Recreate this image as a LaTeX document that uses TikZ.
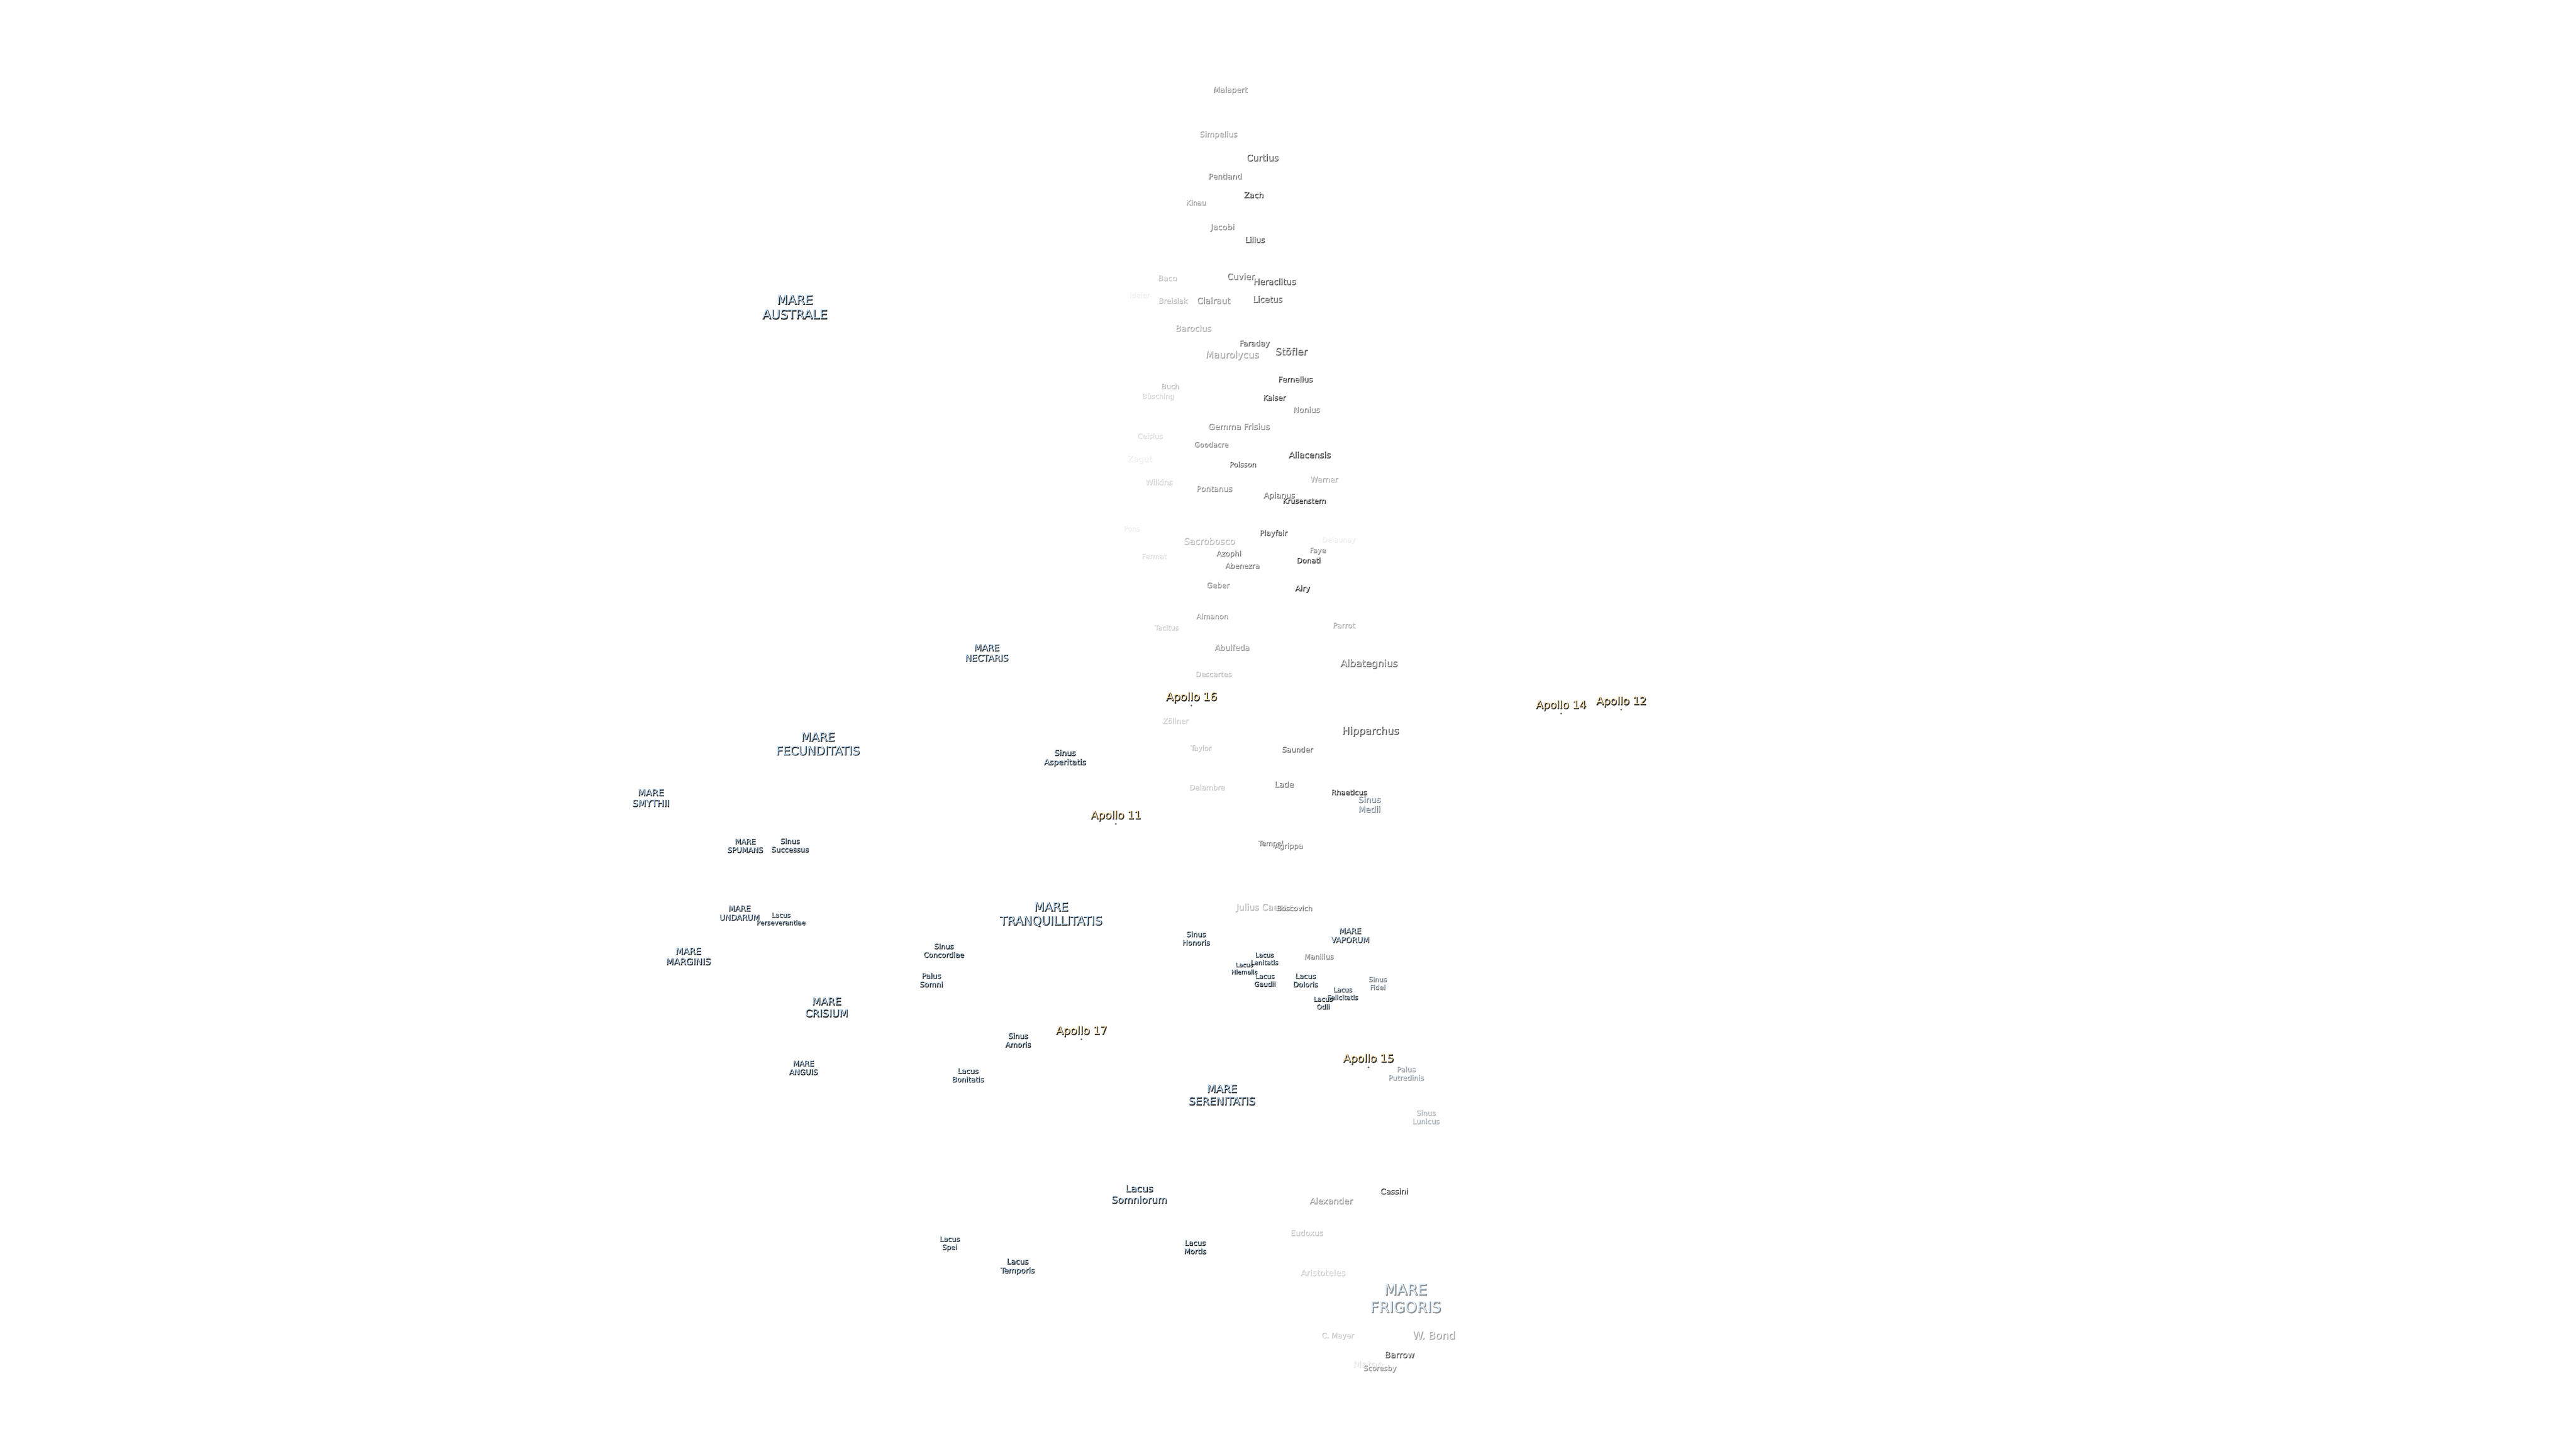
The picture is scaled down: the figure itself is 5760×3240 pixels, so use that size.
\documentclass[tikz,border=0pt]{standalone}
\usepackage{fontspec}
\setmainfont{DejaVu Sans}
\newfontfamily\halofont[FakeBold=5]{DejaVu Sans}
\usepackage{xcolor}
\definecolor{CraterFace}{HTML}{FFFFFF}
\definecolor{MareFace}{HTML}{C6E2FC}
\definecolor{ApolloFace}{HTML}{FFE4B4}
\definecolor{RichBlack}{HTML}{303030}
\tikzset{%
  moon_shadow/.style={%
    inner sep=0pt,%
    align=center%
  },
  moon_face/.style={%
    inner sep=0pt,%
    align=center%
  },
  CraterFace_look/.style={%
    text opacity=0.85%
  },
  MareFace_look/.style={%
    text opacity=1%
  },
  ApolloFace_look/.style={%
    text opacity=1%
  },
  apollo_site/.style={%
    circle,%
    inner sep=0pt,%
    minimum size=1.1pt,%
    fill=RichBlack!70!ApolloFace%
  },
}
% face colour, node name, position, size in pixels, strength, text
\newcommand{\moonlabel}[6]{%
  \pgfmathsetmacro{\labelsize}{#4*0.25}%
  \pgfmathsetmacro{\labelskip}{#4*0.2925}%
  \pgfmathsetmacro{\labeldark}{100*(#5/100)^0.7}%
  \node [moon_shadow, text=RichBlack!\labeldark!white,
    font={\fontsize{\labelsize}{\labelskip}\halofont}]
    (#2_shadow) at ([shift={(1.2,-0.3)}]#3) {#6};
  \node [moon_face, #1_look, text=#1!\labeldark!white,
    font={\fontsize{\labelsize}{\labelskip}\selectfont}]
    (#2) at ([shift={(0,-1.5)}]#3) {#6};
}

\begin{document}
\begin{tikzpicture}[x=0.25pt, y=-0.25pt]

  \useasboundingbox (0,0) rectangle (5760,3240);

  \moonlabel{CraterFace}{malapert}{2750.5,203}{17.3}{45}{Malapert}
  \moonlabel{CraterFace}{simpelius}{2724,302.5}{17.4}{30}{Simpelius}
  \moonlabel{CraterFace}{curtius}{2822.5,353.5}{20}{70}{Curtius}
  \moonlabel{CraterFace}{pentland}{2739,395}{17.1}{50}{Pentland}
  \moonlabel{CraterFace}{zach}{2803,437}{17.7}{85}{Zach}
  \moonlabel{CraterFace}{kinau}{2674,454}{15.8}{30}{Kinau}
  \moonlabel{CraterFace}{jacobi}{2733,510}{18}{40}{Jacobi}
  \moonlabel{CraterFace}{lilius}{2805.6,537}{17.2}{70}{Lilius}
  \moonlabel{CraterFace}{baco}{2610,623}{17.4}{15}{Baco}
  \moonlabel{CraterFace}{cuvier}{2774,619}{19}{50}{Cuvier}
  \moonlabel{CraterFace}{heraclitus}{2849.5,630.5}{18.8}{75}{Heraclitus}
  \moonlabel{CraterFace}{ideler}{2547.5,660.7}{15.8}{3}{Ideler}
  \moonlabel{CraterFace}{breislak}{2622.4,673.4}{16.4}{18}{Breislak}
  \moonlabel{CraterFace}{clairaut}{2713,673}{19}{40}{Clairaut}
  \moonlabel{CraterFace}{licetus}{2834,670}{18.6}{65}{Licetus}

  \moonlabel{CraterFace}{baroclus}{2668,735}{18.7}{25}{Baroclus}
  \moonlabel{CraterFace}{faraday}{2804.6,770}{17.1}{60}{Faraday}
  \moonlabel{CraterFace}{maurolycus}{2755,796}{21}{30}{Maurolycus}
  \moonlabel{CraterFace}{stofler}{2887,787}{21.7}{65}{Stöfler}
  \moonlabel{CraterFace}{fernelius}{2896,849}{17.2}{90}{Fernelius}
  \moonlabel{CraterFace}{buch}{2616,864.6}{16.1}{20}{Buch}
  \moonlabel{CraterFace}{busching}{2589,888}{15.7}{10}{Büsching}
  \moonlabel{CraterFace}{kaiser}{2849,890}{16.3}{85}{Kaiser}
  \moonlabel{CraterFace}{nonius}{2921,917}{17.3}{45}{Nonius}
  \moonlabel{CraterFace}{gemma_frisius}{2770,955}{18.5}{40}{Gemma Frisius}
  \moonlabel{CraterFace}{celsius}{2571,976}{16}{8}{Celsius}
  \moonlabel{CraterFace}{goodacre}{2708,995}{16}{40}{Goodacre}
  \moonlabel{CraterFace}{aliacensis}{2928,1018}{18.9}{85}{Aliacensis}
  \moonlabel{CraterFace}{zagut}{2548,1029}{18.6}{3}{Zagut}
  \moonlabel{CraterFace}{poisson}{2778.6,1039.5}{16}{70}{Poisson}
  \moonlabel{CraterFace}{werner}{2960,1073}{17.2}{25}{Werner}
  \moonlabel{CraterFace}{wilkins}{2591,1079}{17.2}{10}{Wilkins}
  \moonlabel{CraterFace}{pontanus}{2715,1094}{17.4}{35}{Pontanus}
  \moonlabel{CraterFace}{apianus}{2860,1110}{17.5}{50}{Apianus}
  \moonlabel{CraterFace}{krusenstern}{2916,1121}{16}{90}{Krusenstern}
  \moonlabel{CraterFace}{pons}{2530,1183}{15.5}{3}{Pons}
  \moonlabel{CraterFace}{playfair}{2847,1194}{16.5}{70}{Playfair}
  \moonlabel{CraterFace}{sacrobosco}{2704,1211}{20}{20}{Sacrobosco}
  \moonlabel{CraterFace}{delaunay}{2993,1209}{15.8}{3}{Delaunay}
  \moonlabel{CraterFace}{faye}{2946,1233}{15.8}{40}{Faye}
  \moonlabel{CraterFace}{fermat}{2580,1245}{15.8}{7}{Fermat}
  \moonlabel{CraterFace}{azophi}{2747,1240}{16.4}{50}{Azophi}
  \moonlabel{CraterFace}{donati}{2925.5,1254}{16.2}{90}{Donati}
  \moonlabel{CraterFace}{abenezra}{2777.6,1266}{16.2}{50}{Abenezra}

  \moonlabel{CraterFace}{geber}{2723,1309.6}{16.7}{35}{Geber}
  \moonlabel{CraterFace}{airy}{2912,1318}{16.9}{90}{Airy}
  \moonlabel{CraterFace}{almanon}{2710,1379}{16.1}{30}{Almanon}
  \moonlabel{CraterFace}{tacitus}{2608,1404.5}{15.5}{12}{Tacitus}
  \moonlabel{CraterFace}{parrot}{3004.6,1399.5}{17.1}{25}{Parrot}
  \moonlabel{CraterFace}{abulfeda}{2754.6,1449}{17.5}{35}{Abulfeda}
  \moonlabel{CraterFace}{albategnius}{3060.7,1486}{21.6}{55}{Albategnius}
  \moonlabel{CraterFace}{descartes}{2713,1508.6}{16.1}{20}{Descartes}
  \moonlabel{CraterFace}{zollner}{2628,1613}{16.4}{12}{Zöllner}
  \moonlabel{CraterFace}{hipparchus}{3064,1637}{22.5}{75}{Hipparchus}
  \moonlabel{CraterFace}{taylor}{2684.7,1675}{15.7}{15}{Taylor}
  \moonlabel{CraterFace}{saunder}{2900.5,1677}{16.6}{55}{Saunder}
  \moonlabel{CraterFace}{lade}{2871,1755}{17.8}{55}{Lade}
  \moonlabel{CraterFace}{delambre}{2698.5,1761.7}{16.2}{15}{Delambre}
  \moonlabel{CraterFace}{rhaeticus}{3016,1772.7}{16.1}{85}{Rhaeticus}
  \moonlabel{CraterFace}{tempel}{2841,1888}{15.6}{50}{Tempel}
  \moonlabel{CraterFace}{agrippa}{2881,1894}{16.4}{45}{Agrippa}
  \moonlabel{CraterFace}{julius_caesar}{2826,2031}{19.5}{20}{Julius Caesar}
  \moonlabel{CraterFace}{boscovich}{2894,2032}{15.8}{50}{Boscovich}
  \moonlabel{CraterFace}{manilius}{2948.7,2140}{16}{45}{Manilius}
  \moonlabel{CraterFace}{cassini}{3117,2665}{17.5}{85}{Cassini}
  \moonlabel{CraterFace}{alexander}{2976,2686.6}{19}{35}{Alexander}
  \moonlabel{CraterFace}{eudoxus}{2921.6,2758}{17.2}{15}{Eudoxus}
  \moonlabel{CraterFace}{aristoteles}{2957.8,2847}{18.8}{12}{Aristoteles}
  \moonlabel{CraterFace}{c_mayer}{2990.5,2989}{16.3}{15}{C. Mayer}
  \moonlabel{CraterFace}{w_bond}{3206,2987}{23.4}{30}{W. Bond}
  \moonlabel{CraterFace}{barrow}{3129,3031}{18.9}{70}{Barrow}
  \moonlabel{CraterFace}{meton}{3058.6,3052}{21.5}{5}{Meton}
  \moonlabel{CraterFace}{scoresby}{3085,3062}{16.2}{35}{Scoresby}

  \moonlabel{MareFace}{mare_australe}{1777,688}{28}{100}{MARE\\AUSTRALE}
  \moonlabel{MareFace}{mare_nectaris}{2206,1461}{19.7}{100}{MARE\\NECTARIS}
  \moonlabel{MareFace}{mare_fecunditatis}{1828.6,1664.6}{26.2}{100}{MARE\\FECUNDITATIS}
  \moonlabel{MareFace}{sinus_asperitatis}{2381,1696.4}{17.6}{100}{Sinus\\Asperitatis}
  \moonlabel{MareFace}{mare_smythii}{1455,1785.7}{20.4}{100}{MARE\\SMYTHII}
  \moonlabel{MareFace}{sinus_medii}{3061.7,1800}{18.6}{45}{Sinus\\Medii}
  \moonlabel{MareFace}{mare_spumans}{1665.8,1892.5}{16.3}{100}{MARE\\SPUMANS}
  \moonlabel{MareFace}{sinus_successus}{1766,1891.4}{16.1}{100}{Sinus\\Successus}
  \moonlabel{MareFace}{mare_undarum}{1653,2042.7}{17.3}{100}{MARE\\UNDARUM}
  \moonlabel{MareFace}{lacus_perseverantiae}{1745.8,2055.8}{14.6}{100}{Lacus\\Perseverantiae}
  \moonlabel{MareFace}{mare_tranquillitatis}{2350,2046}{26.6}{100}{MARE\\TRANQUILLITATIS}
  \moonlabel{MareFace}{mare_marginis}{1538.8,2140}{20}{100}{MARE\\MARGINIS}
  \moonlabel{MareFace}{sinus_concordiae}{2110,2126.7}{16.1}{100}{Sinus\\Concordiae}
  \moonlabel{MareFace}{palus_somni}{2082,2192.7}{16.6}{100}{Palus\\Somni}
  \moonlabel{MareFace}{mare_crisium}{1848,2254}{22.8}{100}{MARE\\CRISIUM}
  \moonlabel{MareFace}{sinus_amoris}{2276,2327.3}{16.5}{100}{Sinus\\Amoris}
  \moonlabel{MareFace}{mare_anguis}{1796,2389}{16.5}{100}{MARE\\ANGUIS}
  \moonlabel{MareFace}{lacus_bonitatis}{2164,2405.6}{16.2}{100}{Lacus\\Bonitatis}
  \moonlabel{MareFace}{sinus_honoris}{2674,2099.5}{16.1}{100}{Sinus\\Honoris}
  \moonlabel{MareFace}{mare_vaporum}{3018.7,2093}{17.2}{90}{MARE\\VAPORUM}
  \moonlabel{MareFace}{lacus_lenitatis}{2826.8,2145}{14.4}{100}{Lacus\\Lenitatis}
  \moonlabel{MareFace}{lacus_hiemalis}{2781.7,2166.7}{13.5}{100}{Lacus\\Hiemalis}
  \moonlabel{MareFace}{lacus_gaudii}{2827.7,2193}{14.9}{100}{Lacus\\Gaudii}
  \moonlabel{MareFace}{lacus_doloris}{2918.7,2193.3}{16}{100}{Lacus\\Doloris}
  \moonlabel{MareFace}{sinus_fidei}{3080,2200}{15}{50}{Sinus\\Fidei}
  \moonlabel{MareFace}{lacus_felicitatis}{3001.8,2223}{14.6}{90}{Lacus\\Felicitatis}
  \moonlabel{MareFace}{lacus_odii}{2958,2244}{14.8}{100}{Lacus\\Odii}
  \moonlabel{MareFace}{palus_putredinis}{3143.7,2401.7}{16}{35}{Palus\\Putredinis}
  \moonlabel{MareFace}{mare_serenitatis}{2732,2450}{23.6}{100}{MARE\\SERENITATIS}
  \moonlabel{MareFace}{sinus_lunicus}{3188,2499}{16}{25}{Sinus\\Lunicus}
  \moonlabel{MareFace}{lacus_somniorum}{2547,2671.7}{21.5}{100}{Lacus\\Somniorum}
  \moonlabel{MareFace}{lacus_spei}{2123,2782.5}{15.6}{100}{Lacus\\Spei}
  \moonlabel{MareFace}{lacus_mortis}{2671.8,2790}{16.2}{100}{Lacus\\Mortis}
  \moonlabel{MareFace}{lacus_temporis}{2274.8,2833.7}{17}{100}{Lacus\\Temporis}
  \moonlabel{MareFace}{mare_frigoris}{3143,2905}{33.3}{40}{MARE\\FRIGORIS}

  \moonlabel{ApolloFace}{apollo_16}{2664,1561.4}{24.4}{100}{Apollo 16}
  \moonlabel{ApolloFace}{apollo_11}{2495,1826}{24}{100}{Apollo 11}
  \moonlabel{ApolloFace}{apollo_17}{2418,2307.8}{24.4}{100}{Apollo 17}
  \moonlabel{ApolloFace}{apollo_15}{3059.8,2370}{24.2}{100}{Apollo 15}
  \moonlabel{ApolloFace}{apollo_14}{3490,1579}{24}{100}{Apollo 14}
  \moonlabel{ApolloFace}{apollo_12}{3625,1570.7}{24}{100}{Apollo 12}

  \node [apollo_site] (apollo_16_site) at (2664,1578) {};
  \node [apollo_site] (apollo_11_site) at (2495,1842.7) {};
  \node [apollo_site] (apollo_17_site) at (2418,2324.5) {};
  \node [apollo_site] (apollo_15_site) at (3060,2387) {};
  \node [apollo_site] (apollo_14_site) at (3490.7,1596) {};
  \node [apollo_site] (apollo_12_site) at (3625,1587) {};

\end{tikzpicture}
\end{document}
